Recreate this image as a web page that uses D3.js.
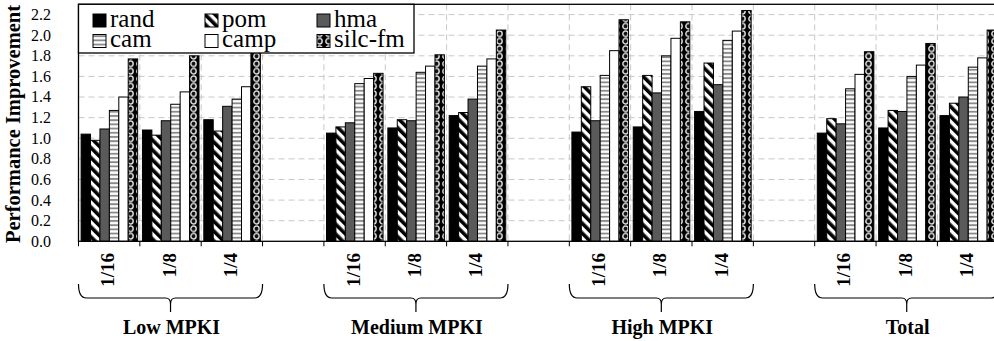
<!DOCTYPE html>
<html><head><meta charset="utf-8">
<script src="https://cdn.jsdelivr.net/npm/d3@7/dist/d3.min.js"></script>
<style>body{margin:0;background:#fff}svg{display:block}</style>
</head><body><svg id="c" width="994" height="341"></svg>
<script>
const groups = ["Low MPKI","Medium MPKI","High MPKI","Total"];
const categories = ["1/16","1/8","1/4"];
const series = ["rand","pom","hma","cam","camp","silc-fm"];
const yTicks = [0,0.2,0.4,0.6,0.8,1.0,1.2,1.4,1.6,1.8,2.0,2.2];
// values per series, ordered Low(1/16,1/8,1/4), Medium, High, Total
const rand = [1.04,1.08,1.18, 1.05,1.10,1.22, 1.06,1.11,1.26, 1.05,1.10,1.22];
const pom  = [0.98,1.03,1.07, 1.11,1.18,1.25, 1.50,1.61,1.73, 1.19,1.27,1.34];
const hma  = [1.09,1.17,1.31, 1.15,1.17,1.38, 1.17,1.44,1.52, 1.14,1.26,1.40];
const cam  = [1.27,1.33,1.38, 1.53,1.64,1.70, 1.61,1.80,1.95, 1.48,1.60,1.69];
const camp = [1.40,1.45,1.50, 1.58,1.70,1.77, 1.85,1.97,2.04, 1.62,1.71,1.78];
const silc = [1.77,1.80,1.95, 1.63,1.81,2.05, 2.15,2.13,2.24, 1.84,1.92,2.05];
const seriesValues = [rand,pom,hma,cam,camp,silc];

const svg = d3.select("#c");
const serif = "'Liberation Serif','Times New Roman',serif";

// slots: 3 categories per group followed by an empty slot
const slots = [];
groups.forEach((g,gi)=>{ categories.forEach(c=>slots.push(g+"|"+c)); if(gi<groups.length-1) slots.push("gap"+gi); });
const x = d3.scaleBand().domain(slots).range([78.5, 78.5+15*61.35]).paddingInner(0).paddingOuter(0);
const xi = d3.scaleBand().domain(series).range([2.6, x.bandwidth()-2.2]).padding(0);
const y = d3.scaleLinear().domain([0,2.3]).range([241.3,4.3]);
const plotL = 78.5, plotR = 78.5+15*61.35, plotT = y(2.3), plotB = y(0);

// patterns
const defs = svg.append("defs");
const pPom = defs.append("pattern").attr("id","pPom").attr("patternUnits","userSpaceOnUse")
  .attr("width",7).attr("height",7).attr("patternTransform","rotate(-45)");
pPom.append("rect").attr("width",7).attr("height",7).attr("fill","#fff");
pPom.append("rect").attr("width",3.6).attr("height",7).attr("fill","#000");
const pCam = defs.append("pattern").attr("id","pCam").attr("patternUnits","userSpaceOnUse")
  .attr("width",4).attr("height",4.2);
pCam.append("rect").attr("width",4).attr("height",4.2).attr("fill","#fff");
pCam.append("rect").attr("y",1.6).attr("width",4).attr("height",1.9).attr("fill","#8a8a8a");
const pSilc = defs.append("pattern").attr("id","pSilc").attr("patternUnits","userSpaceOnUse")
  .attr("width",9).attr("height",7.5);
pSilc.append("rect").attr("width",9).attr("height",7.5).attr("fill","#000");
pSilc.append("circle").attr("cx",4.5).attr("cy",3.75).attr("r",2.7).attr("fill","#111").attr("stroke","#e2e2e2").attr("stroke-width",1.4);
const fills = {"rand":"#000","pom":"url(#pPom)","hma":"#5a5a5a","cam":"url(#pCam)","camp":"#fff","silc-fm":"url(#pSilc)"};

// gridlines
const grid = svg.append("g");
grid.selectAll("line.h").data(yTicks.filter(t=>t>0)).join("line")
  .attr("x1",plotL).attr("x2",plotR).attr("y1",d=>y(d)).attr("y2",d=>y(d))
  .attr("stroke","#c8c8c8").attr("stroke-dasharray","6,4").attr("stroke-width",1);
const bounds = slots.slice(1).map(s=>x(s));
grid.selectAll("line.v").data(bounds).join("line")
  .attr("x1",d=>d).attr("x2",d=>d).attr("y1",plotT).attr("y2",plotB)
  .attr("stroke","#c8c8c8").attr("stroke-dasharray","6,4").attr("stroke-width",1);

// bars
const barData = [];
groups.forEach((g,gi)=>categories.forEach((c,ci)=>series.forEach((s,si)=>{
  barData.push({slot:g+"|"+c, s, v: seriesValues[si][gi*3+ci]});
})));
svg.append("g").selectAll("rect").data(barData).join("rect")
  .attr("x",d=>x(d.slot)+xi(d.s)).attr("width",xi.bandwidth())
  .attr("y",d=>y(d.v)).attr("height",d=>y(0)-y(d.v))
  .attr("fill",d=>fills[d.s]).attr("stroke","#000").attr("stroke-width",1);

// frame
svg.append("rect").attr("x",plotL).attr("y",plotT).attr("width",plotR-plotL).attr("height",plotB-plotT)
  .attr("fill","none").attr("stroke","#000").attr("stroke-width",1.3);

// y axis labels
svg.append("g").selectAll("text").data(yTicks).join("text")
  .attr("x",51).attr("y",d=>y(d)).attr("dy","0.34em").attr("text-anchor","end")
  .attr("font-family",serif).attr("font-size",16).attr("fill","#000").text(d=>d.toFixed(1));
svg.append("text").attr("transform","translate(20,124) rotate(-90)").attr("text-anchor","middle")
  .attr("font-family",serif).attr("font-weight","bold").attr("font-size",20.5).text("Performance Improvement");

// x axis ticks
svg.append("g").selectAll("line").data([plotL].concat(bounds)).join("line")
  .attr("x1",d=>d).attr("x2",d=>d).attr("y1",plotB).attr("y2",plotB+5).attr("stroke","#000").attr("stroke-width",1);

// category labels
const catData = [];
groups.forEach(g=>categories.forEach(c=>catData.push({slot:g+"|"+c,c})));
svg.append("g").selectAll("text").data(catData).join("text")
  .attr("transform",d=>`translate(${x(d.slot)+x.bandwidth()/2+5},253) rotate(-90)`)
  .attr("text-anchor","end").attr("font-family",serif).attr("font-weight","bold").attr("font-size",19)
  .text(d=>d.c);

// braces + group labels
groups.forEach(g=>{
  const x0 = x(g+"|"+categories[0]), x1 = x(g+"|"+categories[2]) + x.bandwidth();
  const cx = (x0+x1)/2;
  svg.append("path").attr("fill","none").attr("stroke","#000").attr("stroke-width",1.2)
    .attr("d",`M${x0},284 Q${x0},298 ${x0+8},298 L${cx-5},298 Q${cx},298 ${cx},304 L${cx},312 M${cx},304 Q${cx},298 ${cx+5},298 L${x1-8},298 Q${x1},298 ${x1},284`);
  svg.append("text").attr("x",cx+1).attr("y",334).attr("text-anchor","middle")
    .attr("font-family",serif).attr("font-weight","bold").attr("font-size",20).text(g);
});

// legend
const lg = svg.append("g");
lg.append("rect").attr("x",plotL).attr("y",plotT).attr("width",414-plotL).attr("height",53-plotT)
  .attr("fill","#fff").attr("stroke","#000").attr("stroke-width",1.3);
const colX = [93,205,317], rowY = [20.5,41];
series.forEach((s,i)=>{
  const cx0 = colX[i%3], cy0 = rowY[Math.floor(i/3)];
  lg.append("rect").attr("x",cx0).attr("y",cy0-6.5).attr("width",13).attr("height",13)
    .attr("fill",fills[s]).attr("stroke","#000").attr("stroke-width",1);
  lg.append("text").attr("x",cx0+17).attr("y",cy0+6)
    .attr("font-family",serif).attr("font-size",25).text(s);
});
</script></body></html>
